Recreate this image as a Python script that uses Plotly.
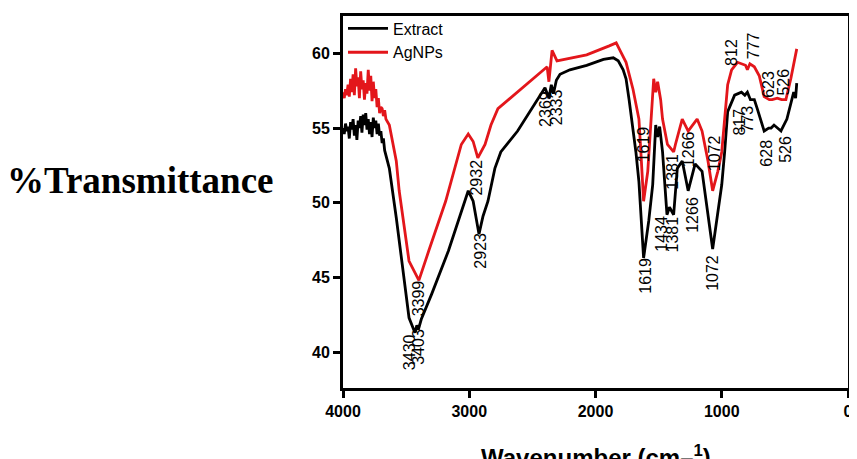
import plotly.graph_objects as go

# ---- data ----
extract_wn = [4000, 3990, 3980, 3970, 3960, 3950, 3940, 3930, 3920, 3910, 3900, 3890, 3880, 3870,
              3860, 3850, 3840, 3830, 3820, 3810, 3800, 3790, 3780, 3770, 3760, 3750, 3740, 3730,
              3720, 3710, 3700, 3690, 3680, 3670, 3633, 3578, 3477, 3430, 3415, 3403, 3380, 3297,
              3164, 3008, 2969, 2923, 2891, 2852, 2797, 2750, 2617, 2400, 2369, 2350, 2333, 2310,
              2281, 2203, 2070, 1937, 1859, 1820, 1781, 1758, 1734, 1680, 1656, 1619, 1578, 1547,
              1523, 1508, 1492, 1469, 1434, 1414, 1381, 1352, 1313, 1266, 1211, 1156, 1072, 1000,
              977, 953, 898, 844, 817, 797, 773, 742, 719, 664, 628, 609, 586, 531, 526, 484, 430,
              415, 406]
extract_t = [55.0, 54.6, 55.3, 54.8, 55.1, 54.3, 55.4, 54.9, 55.6, 54.5, 55.2, 54.2, 55.5, 55.0,
             55.8, 54.7, 55.9, 55.2, 56.0, 54.9, 55.6, 54.6, 55.4, 54.4, 55.7, 55.0, 55.5, 54.6,
             55.3, 54.5, 54.8, 54.0, 54.3, 53.5, 52.3, 49.0, 42.3, 41.3, 41.8, 41.5, 42.2, 43.9,
             46.8, 50.8, 50.1, 47.9, 49.1, 50.1, 52.3, 53.4, 54.8, 57.7, 57.0, 57.9, 57.3, 58.2,
             58.6, 58.9, 59.2, 59.6, 59.7, 59.5, 58.9, 58.3, 56.9, 53.4, 51.4, 46.3, 48.8, 51.2,
             55.2, 54.4, 55.1, 53.4, 49.2, 49.7, 49.2, 52.3, 52.8, 50.8, 52.6, 52.1, 46.9, 51.2,
             53.4, 56.1, 57.2, 57.4, 57.2, 57.4, 56.9, 56.9, 56.3, 54.8, 55.0, 55.0, 55.2, 54.8,
             54.9, 55.6, 57.4, 57.0, 58.0]

agnps_wn = [4000, 3990, 3980, 3970, 3960, 3950, 3940, 3930, 3920, 3910, 3900, 3890, 3880, 3870,
            3860, 3850, 3840, 3830, 3820, 3810, 3800, 3790, 3780, 3770, 3760, 3750, 3740, 3730,
            3720, 3710, 3700, 3690, 3680, 3670, 3660, 3633, 3578, 3555, 3477, 3399, 3320, 3187,
            3063, 3008, 2969, 2932, 2875, 2828, 2773, 2594, 2383, 2369, 2344, 2305, 2070, 1891,
            1836, 1812, 1758, 1703, 1656, 1640, 1619, 1586, 1562, 1539, 1523, 1508, 1484, 1469,
            1430, 1381, 1367, 1313, 1266, 1195, 1156, 1109, 1072, 1031, 1000, 953, 922, 875, 812,
            797, 777, 742, 703, 664, 623, 600, 560, 526, 492, 453, 406]
agnps_t = [57.4, 57.0, 57.6, 57.2, 57.9, 57.1, 58.3, 57.4, 58.6, 57.2, 59.0, 57.8, 58.4, 57.0,
           58.8, 57.6, 58.2, 56.9, 58.0, 57.3, 58.9, 57.5, 58.5, 56.8, 58.1, 57.0, 57.6, 56.4,
           57.0, 56.0, 56.4, 56.3, 55.8, 56.2, 55.6, 55.2, 52.8, 50.8, 46.1, 44.8, 46.8, 50.1,
           53.9, 54.6, 54.1, 53.0, 53.9, 55.2, 56.3, 57.6, 59.1, 58.1, 60.2, 59.5, 59.9, 60.5,
           60.7, 60.3, 59.4, 57.6, 55.6, 53.3, 50.1, 52.1, 55.4, 58.3, 57.4, 58.1, 56.9, 55.6,
           53.9, 53.4, 53.9, 55.6, 54.8, 55.6, 54.8, 52.8, 50.8, 52.1, 53.4, 57.9, 58.9, 59.4,
           59.2, 58.9, 59.3, 59.1, 58.5, 57.1, 56.9, 56.9, 57.0, 56.9, 56.9, 58.3, 60.3]

# peak labels: (text, wavenumber, %T) where each label sits
peak_labels = [
    ("3430", 3477, 40.0), ("3403", 3399, 40.35), ("3399", 3406, 43.6),
    ("2932", 2945, 51.7), ("2923", 2914, 46.8),
    ("2369", 2398, 56.3), ("2333", 2312, 56.4),
    ("1619", 1602, 45.1), ("1619", 1617, 53.9),
    ("1434", 1484, 47.9), ("1381", 1391, 47.9), ("1381", 1391, 52.1),
    ("1266", 1258, 53.6), ("1266", 1227, 49.2),
    ("1072", 1070, 45.3), ("1072", 1055, 53.3),
    ("812", 922, 60.07), ("777", 742, 60.5),
    ("817", 859, 55.4), ("773", 797, 55.6),
    ("623", 625, 57.9), ("526", 508, 58.1),
    ("628", 648, 53.3), ("526", 492, 53.6),
]

x_ticks = [4000, 3000, 2000, 1000, 0]
y_ticks = [40, 45, 50, 55, 60]

fig = go.Figure()
fig.add_trace(go.Scatter(x=extract_wn, y=extract_t, mode="lines", name="Extract",
                         line=dict(color="#000000", width=2.8)))
fig.add_trace(go.Scatter(x=agnps_wn, y=agnps_t, mode="lines", name="AgNPs",
                         line=dict(color="#e3161b", width=2.8)))

for txt, xv, yv in peak_labels:
    fig.add_annotation(x=xv, y=yv, xref="x", yref="y", text=txt, showarrow=False,
                       textangle=-90, font=dict(family="Arial", size=16, color="#000000"))

fig.add_annotation(x=-0.669, y=0.557, xref="paper", yref="paper", xanchor="left",
                   yanchor="middle", text="<b>%Transmittance</b>", showarrow=False,
                   font=dict(family="Liberation Serif, Times New Roman", size=37, color="#000000"))
fig.add_annotation(x=0.5, y=-0.138, xref="paper", yref="paper", xanchor="center",
                   yanchor="top", text="<b>Wavenumber (cm–<sup>1</sup>)</b>", showarrow=False,
                   font=dict(family="Arial", size=24, color="#000000"))

axis_common = dict(showline=True, linewidth=3, linecolor="#000000", mirror=True,
                   ticks="outside", ticklen=7, tickwidth=2.5, tickcolor="#000000",
                   showgrid=False, zeroline=False,
                   tickfont=dict(family="Arial", size=16, color="#000000", weight="bold"))

fig.update_xaxes(range=[4000, 0], tickvals=x_ticks, ticktext=[str(v) for v in x_ticks],
                 **axis_common)
fig.update_yaxes(range=[37.6, 62.5], tickvals=y_ticks, ticktext=[str(v) for v in y_ticks],
                 **axis_common)

fig.update_layout(
    width=849, height=451,
    margin=dict(l=335, r=4, t=5, b=71),
    paper_bgcolor="white", plot_bgcolor="white",
    showlegend=True,
    legend=dict(x=0.0, y=1.012, xanchor="left", yanchor="top", bgcolor="rgba(0,0,0,0)",
                font=dict(family="Arial", size=16, color="#000000"), tracegroupgap=0,
                itemwidth=40),
)

fig.write_html("out.html")
